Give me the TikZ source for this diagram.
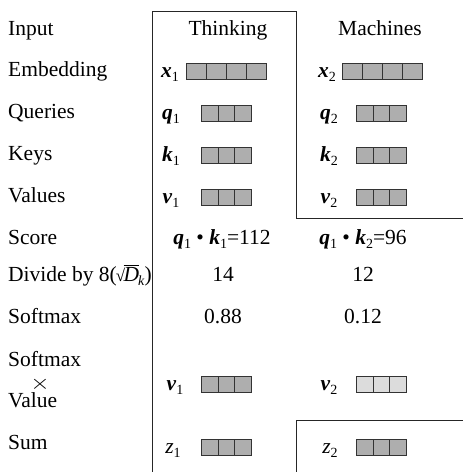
\documentclass[tikz,border=0pt]{standalone}
\usepackage{fontspec}
\setmainfont{Liberation Serif}
\usepackage{graphicx}
\definecolor{cellgray}{HTML}{AEAEAE}
\definecolor{celllight}{HTML}{DCDCDC}
\definecolor{edgegray}{HTML}{333333}
\newcommand\vbf[2]{\textbf{\textit{#1}}\raisebox{-4pt}{\fontsize{14}{14}\selectfont #2}}
\newcommand\vit[2]{\textit{#1}\raisebox{-4pt}{\fontsize{14}{14}\selectfont #2}}
\newcommand\cells[6]{% name, x, ybottom, n, fill, width
  \foreach \i in {1,...,#4} {
    \node[cellbox, fill=#5, minimum width=#6pt, anchor=south west] (#1-\i) at ({#2+(\i-1)*#6}, #3) {};
  }}
\tikzset{
  lbl/.style={anchor=base west, inner sep=0pt, font=\fontsize{21.5}{24}\selectfont},
  txt/.style={anchor=base, inner sep=0pt, font=\fontsize{21.5}{24}\selectfont},
  cellbox/.style={draw=edgegray, line width=0.9pt, minimum height=16pt, inner sep=0pt},
  frame/.style={draw=black!85, line width=0.9pt},
}
\begin{document}
\begin{tikzpicture}[x=1pt, y=-1pt]
\useasboundingbox (0,0) rectangle (463,472);
% frames
\draw[frame] (152,472) -- (152,11) -- (296,11) -- (296,218) -- (463,218);
\draw[frame] (296,472) -- (296,420) -- (463,420);
% left labels
\node[lbl] (lInput) at (8,35) {Input};
\node[lbl] (lEmb) at (8,76) {Embedding};
\node[lbl] (lQ) at (8,118) {Queries};
\node[lbl] (lK) at (8,160) {Keys};
\node[lbl] (lV) at (8,202) {Values};
\node[lbl] (lScore) at (8,244) {Score};
\node[lbl] (lDiv) at (8,281) {Divide by 8(\kern-1pt{\fontsize{17}{17}\selectfont √}\kern-1.5pt$\overline{\mbox{\textit{D}}}$\kern-1pt\raisebox{-4pt}{\fontsize{14}{14}\selectfont\textit{k}})};
\node[lbl] (lSm) at (8,323) {Softmax};
\node[lbl] (lSmv1) at (8,366) {Softmax};
\node[anchor=center, inner sep=0pt, font=\fontsize{22}{22}\selectfont] (lSmv2) at (40,384) {\scalebox{1.2}[1]{$\times$}};
\node[lbl] (lSmv3) at (8,407) {Value};
\node[lbl] (lSum) at (8,449) {Sum};
% headers
\node[txt] (hThink) at (228,35) {Thinking};
\node[txt] (hMach) at (380,35) {Machines};
% Thinking column
\node[txt] (x1) at (170,77) {\vbf{x}{1}};
\cells{cx1}{186}{80}{4}{cellgray}{20}
\node[txt] (q1) at (171,119) {\vbf{q}{1}};
\cells{cq1}{201}{122}{3}{cellgray}{16.67}
\node[txt] (k1) at (171,161) {\vbf{k}{1}};
\cells{ck1}{201}{164}{3}{cellgray}{16.67}
\node[txt] (v1) at (171,203) {\vbf{v}{1}};
\cells{cv1}{201}{206}{3}{cellgray}{16.67}
% Machines column
\node[txt] (x2) at (327,77) {\vbf{x}{2}};
\cells{cx2}{342}{80}{4}{cellgray}{20}
\node[txt] (q2) at (329,119) {\vbf{q}{2}};
\cells{cq2}{356}{122}{3}{cellgray}{16.67}
\node[txt] (k2) at (329,161) {\vbf{k}{2}};
\cells{ck2}{356}{164}{3}{cellgray}{16.67}
\node[txt] (v2) at (329,203) {\vbf{v}{2}};
\cells{cv2}{356}{206}{3}{cellgray}{16.67}
% values rows
\node[txt] (s1) at (222,244) {\vbf{q}{1} • \vbf{k}{1}=112};
\node[txt] (s2) at (363,244) {\vbf{q}{1} • \vbf{k}{2}=96};
\node[txt] (d1) at (223,281) {14};
\node[txt] (d2) at (363,281) {12};
\node[txt] (m1) at (223,323) {0.88};
\node[txt] (m2) at (363,323) {0.12};
% softmax x value
\node[txt] (sv1) at (175,390) {\vbf{v}{1}};
\cells{csv1}{201}{393}{3}{cellgray}{16.67}
\node[txt] (sv2) at (329,390) {\vbf{v}{2}};
\cells{csv2}{356}{393}{3}{celllight}{16.67}
% sum
\node[txt] (z1) at (173,453) {\vit{z}{1}};
\cells{cz1}{201}{456}{3}{cellgray}{16.67}
\node[txt] (z2) at (330,453) {\vit{z}{2}};
\cells{cz2}{356}{456}{3}{cellgray}{16.67}
\end{tikzpicture}
\end{document}
